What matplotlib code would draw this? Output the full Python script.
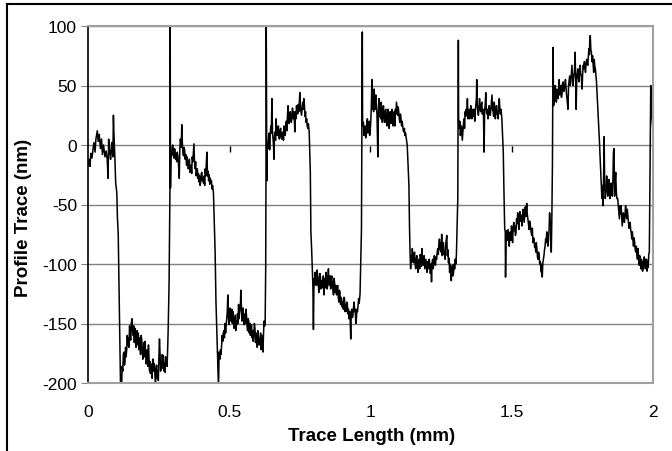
import matplotlib
matplotlib.use('Agg')
import matplotlib.pyplot as plt
from matplotlib.lines import Line2D

# trace, (mm, nm) per step of the profile
seg_1 = [(0.000, -17), (0.004, -12), (0.007, -18), (0.010, -7), (0.014, -11), (0.018, -3), (0.021, 2),
         (0.025, -6), (0.028, 5), (0.033, 12), (0.036, 3), (0.040, 9), (0.044, -3), (0.048, 5),
         (0.051, -8), (0.055, 0), (0.060, -10), (0.064, -5), (0.068, -12), (0.071, -28), (0.073, 5),
         (0.077, -6), (0.080, -12), (0.084, 2), (0.088, -10), (0.090, 25), (0.092, 8), (0.095, -10),
         (0.098, -32), (0.102, -40), (0.104, -60), (0.107, -75), (0.109, -107), (0.112, -155),
         (0.115, -200), (0.118, -210)]
seg_2 = [(0.121, -186), (0.123, -190), (0.125, -176), (0.127, -174), (0.129, -185), (0.131, -182),
         (0.133, -170), (0.135, -178), (0.137, -172), (0.139, -160), (0.141, -168), (0.143, -162),
         (0.145, -170), (0.147, -152), (0.149, -156), (0.151, -164), (0.153, -150), (0.156, -146),
         (0.158, -158), (0.160, -160), (0.162, -152), (0.164, -166), (0.166, -154), (0.168, -162),
         (0.170, -170), (0.172, -165), (0.174, -156), (0.176, -168), (0.178, -158), (0.180, -172),
         (0.182, -162), (0.184, -168), (0.186, -176), (0.188, -160), (0.190, -163), (0.192, -172),
         (0.194, -180), (0.196, -174), (0.198, -166), (0.200, -178), (0.202, -165), (0.204, -176),
         (0.206, -184), (0.208, -180), (0.210, -172), (0.212, -186), (0.214, -168), (0.216, -180),
         (0.218, -190), (0.219, -182), (0.221, -192), (0.223, -184), (0.225, -188), (0.227, -196),
         (0.229, -180), (0.231, -180), (0.233, -190), (0.235, -184), (0.237, -194), (0.239, -200),
         (0.241, -188), (0.243, -185), (0.245, -196), (0.247, -190), (0.249, -198), (0.251, -178),
         (0.253, -163), (0.255, -175), (0.257, -190), (0.259, -182), (0.261, -188), (0.263, -176),
         (0.265, -184), (0.267, -177), (0.269, -190), (0.271, -183), (0.273, -191), (0.275, -178),
         (0.278, -180), (0.280, -186), (0.282, -171), (0.284, -153), (0.287, -116), (0.290, -40),
         (0.291, 100), (0.292, -36)]
seg_3 = [(0.294, -5), (0.296, -9), (0.298, -2), (0.300, 0), (0.302, -6), (0.304, -11), (0.306, -3),
         (0.308, -4), (0.310, -12), (0.312, -8), (0.314, -14), (0.316, -6), (0.318, -9), (0.320, -15),
         (0.323, -28), (0.325, -4), (0.327, 5), (0.330, -2), (0.332, 17), (0.334, 2), (0.336, -6),
         (0.338, -9), (0.340, -2), (0.342, -4), (0.344, -12), (0.346, -8), (0.349, -17), (0.351, -10),
         (0.353, -14), (0.355, -20), (0.357, -16), (0.359, -12), (0.361, -23), (0.363, -18),
         (0.365, -17), (0.367, -24), (0.369, -10), (0.371, -14), (0.373, -6), (0.375, 1), (0.377, -14),
         (0.379, -20), (0.381, -14), (0.383, -26), (0.385, -22), (0.387, -20), (0.389, -28),
         (0.391, -24), (0.393, -31), (0.395, -26), (0.397, -34), (0.399, -31), (0.401, -24),
         (0.403, -23), (0.405, -30), (0.407, -28), (0.409, -32), (0.411, -26), (0.413, -34),
         (0.415, -20), (0.417, -26), (0.419, -14), (0.421, -6), (0.423, -26), (0.425, -22),
         (0.427, -30), (0.429, -25), (0.431, -33), (0.433, -28), (0.435, -32), (0.437, -30),
         (0.439, -37), (0.441, -34), (0.444, -40), (0.447, -65), (0.450, -90), (0.453, -132),
         (0.458, -174), (0.462, -205)]
seg_4 = [(0.463, -190), (0.464, -174), (0.466, -178), (0.467, -180), (0.469, -172), (0.471, -176),
         (0.473, -168), (0.475, -160), (0.477, -165), (0.479, -158), (0.481, -156), (0.483, -162),
         (0.485, -150), (0.487, -158), (0.489, -152), (0.491, -146), (0.493, -140), (0.495, -126),
         (0.497, -144), (0.499, -151), (0.501, -140), (0.503, -137), (0.505, -148), (0.507, -146),
         (0.509, -138), (0.511, -150), (0.513, -140), (0.515, -145), (0.517, -154), (0.519, -148),
         (0.521, -143), (0.523, -156), (0.525, -148), (0.527, -151), (0.529, -142), (0.531, -150),
         (0.533, -134), (0.535, -146), (0.537, -140), (0.539, -138), (0.541, -122), (0.543, -135),
         (0.545, -148), (0.547, -140), (0.549, -137), (0.551, -146), (0.553, -151), (0.555, -142),
         (0.557, -150), (0.559, -138), (0.561, -143), (0.563, -152), (0.565, -156), (0.567, -146),
         (0.569, -148), (0.571, -158), (0.573, -150), (0.575, -160), (0.577, -152), (0.579, -151),
         (0.581, -162), (0.583, -156), (0.585, -165), (0.587, -160), (0.589, -150), (0.591, -154),
         (0.593, -166), (0.595, -158), (0.597, -162), (0.599, -170), (0.601, -156), (0.603, -160),
         (0.605, -168), (0.607, -162), (0.609, -168), (0.611, -158), (0.613, -172), (0.615, -165),
         (0.617, -160), (0.619, -174), (0.621, -160), (0.623, -148), (0.625, -152), (0.627, -151),
         (0.629, -104), (0.630, -29), (0.631, 100), (0.633, -30)]
seg_5 = [(0.635, 0), (0.637, -3), (0.639, 5), (0.641, 10), (0.643, -4), (0.645, 8), (0.647, 16),
         (0.649, 10), (0.651, 39), (0.653, 12), (0.655, 5), (0.657, -2), (0.658, -12), (0.660, 6),
         (0.662, 11), (0.664, 4), (0.666, 22), (0.668, 10), (0.670, 8), (0.672, 14), (0.674, 16),
         (0.676, 6), (0.678, 5), (0.680, 12), (0.682, 14), (0.684, 7), (0.686, 5), (0.688, 10),
         (0.690, 11), (0.692, 4), (0.694, 16), (0.696, 12), (0.698, 8), (0.700, 14), (0.702, 20),
         (0.704, 12), (0.706, 24), (0.708, 33), (0.710, 22), (0.712, 18), (0.714, 26), (0.716, 28),
         (0.718, 20), (0.720, 19), (0.722, 26), (0.724, 31), (0.726, 22), (0.728, 28), (0.730, 24),
         (0.732, 11), (0.734, 28), (0.736, 22), (0.738, 33), (0.740, 30), (0.742, 26), (0.744, 34),
         (0.746, 28), (0.748, 36), (0.750, 44), (0.752, 31), (0.754, 28), (0.756, 25), (0.758, 32),
         (0.760, 36), (0.762, 30), (0.764, 39), (0.766, 34), (0.768, 24), (0.770, 28), (0.772, 19),
         (0.774, 22), (0.776, 16), (0.778, 14), (0.780, 18), (0.783, 11), (0.787, -23), (0.789, -73),
         (0.792, -90), (0.794, -104), (0.796, -118), (0.798, -155), (0.800, -112)]
seg_6 = [(0.802, -118), (0.804, -107), (0.806, -114), (0.808, -110), (0.809, -118), (0.811, -105),
         (0.813, -110), (0.815, -116), (0.817, -124), (0.819, -112), (0.821, -108), (0.823, -112),
         (0.825, -121), (0.827, -114), (0.829, -115), (0.831, -120), (0.833, -110), (0.835, -126),
         (0.837, -118), (0.839, -112), (0.841, -120), (0.843, -107), (0.845, -112), (0.847, -121),
         (0.849, -116), (0.851, -104), (0.853, -115), (0.855, -118), (0.857, -110), (0.859, -121),
         (0.861, -112), (0.863, -110), (0.865, -118), (0.867, -121), (0.869, -126), (0.871, -112),
         (0.873, -116), (0.875, -124), (0.877, -118), (0.880, -126), (0.882, -120), (0.884, -118),
         (0.886, -128), (0.888, -132), (0.890, -122), (0.892, -124), (0.894, -134), (0.896, -128),
         (0.898, -130), (0.900, -136), (0.902, -132), (0.904, -138), (0.906, -128), (0.908, -129),
         (0.910, -140), (0.912, -134), (0.914, -140), (0.916, -132), (0.918, -134), (0.920, -142),
         (0.922, -138), (0.924, -146), (0.926, -140), (0.928, -146), (0.930, -163), (0.932, -140),
         (0.934, -138), (0.936, -145), (0.938, -143), (0.940, -136), (0.942, -132), (0.944, -140),
         (0.946, -138), (0.948, -150), (0.950, -146), (0.952, -138), (0.954, -140), (0.956, -134),
         (0.958, -129), (0.960, -133), (0.963, -125), (0.966, -90), (0.968, -71), (0.969, -15),
         (0.971, 95), (0.972, 16)]
seg_7 = [(0.975, 19), (0.977, 8), (0.979, 11), (0.981, 16), (0.983, 6), (0.985, 12), (0.987, 18),
         (0.989, 22), (0.991, 10), (0.993, 14), (0.995, 20), (0.997, 8), (0.999, 12), (1.001, 20),
         (1.003, 33), (1.005, 55), (1.007, 30), (1.009, 39), (1.011, 28), (1.013, 47), (1.015, 36),
         (1.017, 30), (1.019, 42), (1.021, 34), (1.023, 25), (1.026, -10), (1.028, 28), (1.030, 39),
         (1.032, 24), (1.034, 30), (1.036, 22), (1.038, 36), (1.040, 28), (1.042, 19), (1.044, 30),
         (1.046, 33), (1.048, 22), (1.050, 19), (1.052, 28), (1.054, 30), (1.056, 20), (1.058, 16),
         (1.060, 26), (1.062, 30), (1.064, 22), (1.066, 14), (1.068, 24), (1.070, 28), (1.072, 18),
         (1.074, 22), (1.076, 30), (1.078, 26), (1.080, 16), (1.082, 24), (1.084, 28), (1.086, 16),
         (1.088, 30), (1.090, 26), (1.092, 36), (1.094, 30), (1.096, 25), (1.098, 32), (1.100, 28),
         (1.102, 22), (1.104, 19), (1.106, 26), (1.108, 22), (1.110, 16), (1.112, 20), (1.114, 16),
         (1.116, 12), (1.118, 11), (1.120, 14), (1.122, 8), (1.124, 10), (1.127, 5), (1.130, 0),
         (1.133, -17), (1.136, -34), (1.138, -68), (1.140, -90), (1.142, -104)]
seg_8 = [(1.144, -93), (1.146, -98), (1.148, -87), (1.150, -94), (1.152, -99), (1.154, -92),
         (1.156, -90), (1.158, -100), (1.160, -104), (1.162, -96), (1.164, -93), (1.166, -101),
         (1.168, -107), (1.170, -98), (1.172, -96), (1.174, -104), (1.176, -92), (1.178, -95),
         (1.180, -102), (1.182, -87), (1.184, -95), (1.186, -101), (1.188, -94), (1.190, -93),
         (1.192, -104), (1.194, -100), (1.196, -96), (1.198, -103), (1.200, -107), (1.202, -98),
         (1.204, -99), (1.206, -104), (1.208, -96), (1.210, -102), (1.212, -108), (1.214, -100),
         (1.216, -115), (1.218, -99), (1.220, -96), (1.222, -104), (1.224, -100), (1.226, -93),
         (1.228, -98), (1.230, -101), (1.232, -94), (1.234, -96), (1.236, -90), (1.238, -87),
         (1.240, -92), (1.242, -84), (1.244, -79), (1.246, -88), (1.248, -82), (1.250, -90),
         (1.252, -75), (1.254, -93), (1.256, -86), (1.258, -82), (1.260, -92), (1.262, -90),
         (1.264, -96), (1.266, -84), (1.268, -80), (1.270, -76), (1.272, -93), (1.274, -88),
         (1.276, -99), (1.278, -95), (1.280, -107), (1.282, -100), (1.284, -110), (1.286, -114),
         (1.288, -104), (1.290, -101), (1.292, -110), (1.294, -107), (1.296, -100), (1.298, -104),
         (1.300, -96), (1.302, -100), (1.304, -93), (1.307, -62), (1.309, -45), (1.311, 88),
         (1.312, 19)]
seg_9 = [(1.314, 14), (1.316, 20), (1.318, 8), (1.320, 12), (1.322, 16), (1.325, 4), (1.327, 11),
         (1.329, 18), (1.331, 22), (1.333, 14), (1.335, 28), (1.337, 24), (1.339, 30), (1.341, 26),
         (1.343, 39), (1.345, 22), (1.347, 26), (1.349, 30), (1.351, 22), (1.353, 25), (1.355, 33),
         (1.357, 28), (1.359, 22), (1.361, 26), (1.363, 30), (1.365, 24), (1.367, 30), (1.369, 20),
         (1.371, 28), (1.373, 34), (1.375, 40), (1.376, 55), (1.378, 33), (1.380, 28), (1.382, 25),
         (1.384, 32), (1.386, 39), (1.388, 30), (1.390, 28), (1.392, 34), (1.394, 36), (1.396, 26),
         (1.398, 30), (1.400, 24), (1.402, -6), (1.404, 28), (1.406, 34), (1.408, 44), (1.410, 30),
         (1.412, 26), (1.414, 30), (1.416, 22), (1.418, 26), (1.420, 33), (1.422, 28), (1.424, 25),
         (1.426, 30), (1.428, 36), (1.430, 42), (1.432, 30), (1.434, 28), (1.436, 24), (1.438, 36),
         (1.440, 30), (1.442, 22), (1.444, 28), (1.446, 33), (1.448, 26), (1.450, 28), (1.452, 22),
         (1.454, 34), (1.456, 39), (1.458, 30), (1.460, 26), (1.462, 30), (1.465, 22), (1.467, 11),
         (1.470, -6), (1.472, -34), (1.475, -70), (1.477, -73), (1.478, -111), (1.480, -79)]
seg_10 = [(1.482, -72), (1.484, -80), (1.487, -71), (1.489, -78), (1.491, -85), (1.493, -76),
          (1.495, -73), (1.497, -80), (1.499, -68), (1.501, -74), (1.503, -82), (1.505, -70),
          (1.507, -65), (1.509, -72), (1.511, -68), (1.513, -76), (1.515, -74), (1.517, -62),
          (1.519, -66), (1.521, -57), (1.523, -64), (1.525, -71), (1.527, -62), (1.529, -56),
          (1.531, -64), (1.534, -59), (1.536, -68), (1.538, -62), (1.540, -54), (1.542, -60),
          (1.544, -65), (1.546, -58), (1.548, -52), (1.550, -60), (1.553, -49), (1.555, -58),
          (1.557, -62), (1.559, -66), (1.561, -71), (1.563, -64), (1.565, -65), (1.567, -70),
          (1.569, -74), (1.571, -76), (1.573, -70), (1.575, -82), (1.577, -78), (1.579, -79),
          (1.581, -86), (1.583, -84), (1.585, -90), (1.587, -82), (1.589, -87), (1.591, -94),
          (1.593, -96), (1.595, -90), (1.597, -93), (1.599, -100), (1.601, -98), (1.603, -104),
          (1.605, -107), (1.607, -100), (1.608, -111), (1.610, -99), (1.612, -96), (1.614, -93),
          (1.616, -88), (1.618, -85), (1.620, -79), (1.622, -82), (1.624, -73), (1.626, -76),
          (1.628, -85), (1.630, -80), (1.632, -72), (1.634, -57), (1.636, -65), (1.638, -68),
          (1.640, -90), (1.642, -60), (1.644, -17), (1.646, 82), (1.648, 33)]
seg_11 = [(1.650, 36), (1.652, 42), (1.654, 50), (1.656, 38), (1.658, 36), (1.660, 47), (1.662, 40),
          (1.664, 39), (1.666, 46), (1.668, 55), (1.670, 42), (1.672, 48), (1.674, 50), (1.676, 40),
          (1.678, 44), (1.680, 52), (1.682, 53), (1.684, 45), (1.686, 47), (1.688, 50), (1.690, 55),
          (1.692, 48), (1.694, 42), (1.696, 38), (1.699, 30), (1.701, 50), (1.703, 54), (1.705, 58),
          (1.707, 50), (1.709, 53), (1.711, 60), (1.713, 67), (1.715, 58), (1.717, 50), (1.719, 56),
          (1.722, 62), (1.724, 78), (1.726, 60), (1.728, 30), (1.730, 55), (1.732, 60), (1.734, 64),
          (1.736, 56), (1.738, 53), (1.740, 62), (1.742, 67), (1.744, 60), (1.746, 58), (1.749, 47),
          (1.751, 60), (1.753, 67), (1.755, 64), (1.757, 70), (1.759, 66), (1.761, 61), (1.763, 68),
          (1.765, 72), (1.767, 70), (1.769, 67), (1.771, 74), (1.773, 81), (1.775, 76), (1.776, 88),
          (1.778, 92), (1.780, 80), (1.782, 78), (1.784, 70), (1.786, 75), (1.788, 68), (1.790, 61),
          (1.792, 72), (1.794, 66), (1.796, 64), (1.798, 58), (1.800, 53), (1.803, 39), (1.807, 22),
          (1.810, 5), (1.813, -12), (1.816, -29), (1.819, -45), (1.821, -34)]
seg_12 = [(1.823, -51), (1.825, -29), (1.827, 7), (1.829, -34), (1.831, -45), (1.834, -38),
          (1.836, -26), (1.838, -36), (1.840, -43), (1.842, -32), (1.844, -29), (1.846, -40),
          (1.848, -45), (1.850, -36), (1.852, -32), (1.854, -40), (1.856, -43), (1.858, -30),
          (1.860, -6), (1.862, -3), (1.864, -43), (1.866, -30), (1.868, -23), (1.870, -38),
          (1.872, -45), (1.875, -45), (1.877, -51), (1.879, -56), (1.881, -62), (1.883, -51),
          (1.885, -58), (1.887, -51), (1.889, -60), (1.891, -68), (1.893, -62), (1.895, -57),
          (1.897, -64), (1.899, -65), (1.901, -58), (1.903, -51), (1.905, -58), (1.907, -62),
          (1.909, -54), (1.911, -60), (1.913, -65), (1.915, -70), (1.917, -66), (1.919, -65),
          (1.921, -71), (1.923, -74), (1.925, -79), (1.927, -73), (1.929, -80), (1.931, -85),
          (1.933, -78), (1.935, -82), (1.937, -88), (1.939, -90), (1.941, -85), (1.943, -92),
          (1.945, -96), (1.947, -87), (1.949, -94), (1.951, -101), (1.953, -93), (1.955, -98),
          (1.957, -104), (1.959, -96), (1.961, -100), (1.963, -106), (1.965, -98), (1.967, -104),
          (1.969, -94), (1.971, -101), (1.973, -96), (1.975, -104), (1.977, -96), (1.979, -106),
          (1.981, -98), (1.983, -103), (1.985, -92), (1.987, -90), (1.988, -62), (1.990, -17),
          (1.992, 50), (1.994, 42), (1.996, 25), (1.998, 18), (2.000, 11)]

# little stray marks near zero
stray_x = [0.503, 0.999, 1.500]
stray_lo = [-6, -6, -6]
stray_hi = [-1, -1, -1]

x_ticks = [0, 0.5, 1, 1.5, 2]
x_labels = ['0', '0.5', '1', '1.5', '2']
y_ticks = [-200, -150, -100, -50, 0, 50, 100]

trace = seg_1 + seg_2 + seg_3 + seg_4 + seg_5 + seg_6 + seg_7 + seg_8 + seg_9 + seg_10 + seg_11 + seg_12
xs = [p[0] for p in trace]
ys = [p[1] for p in trace]

plt.rcParams['font.family'] = ['Liberation Sans', 'DejaVu Sans']
plt.rcParams['axes.unicode_minus'] = False

W, H = 672, 452
fig = plt.figure(figsize=(W / 100, H / 100), dpi=100)
ax = fig.add_axes([88 / W, 1 - 384 / H, (653 - 88) / W, (384 - 27) / H])

ax.plot(xs, ys, color='black', lw=1.1)
ax.vlines(stray_x, stray_lo, stray_hi, color='black', lw=1.0)

ax.set_xlim(0, 2)
ax.set_ylim(-200, 100)
ax.set_xticks(x_ticks)
ax.set_xticklabels(x_labels)
ax.set_yticks(y_ticks)
ax.yaxis.grid(True, color='#808080', lw=1.0)
ax.set_axisbelow(True)

for side in ['top', 'right', 'bottom']:
    ax.spines[side].set_color('#a0a0a0')
    ax.spines[side].set_linewidth(1.5)
ax.spines['left'].set_color('black')
ax.spines['left'].set_linewidth(1.2)

ax.tick_params(axis='x', length=0, pad=15, labelsize=12.5)
ax.tick_params(axis='y', length=5, color='#808080', pad=3, labelsize=12.5)

fig.text(372 / W, 1 - 437 / H, 'Trace Length (mm)', ha='center', va='center',
         fontsize=13.5, fontweight='bold')
fig.text(23 / W, 1 - 218 / H, 'Profile Trace (nm)', ha='center', va='center',
         rotation=90, fontsize=13.5, fontweight='bold')

# outer frame, only top and left are visible in the picture
fig.add_artist(Line2D([7 / W, 1], [1 - 5 / H, 1 - 5 / H], color='black', lw=1.5,
                      transform=fig.transFigure))
fig.add_artist(Line2D([7 / W, 7 / W], [0, 1 - 5 / H], color='black', lw=1.5,
                      transform=fig.transFigure))

fig.savefig('out.png', dpi=100)
